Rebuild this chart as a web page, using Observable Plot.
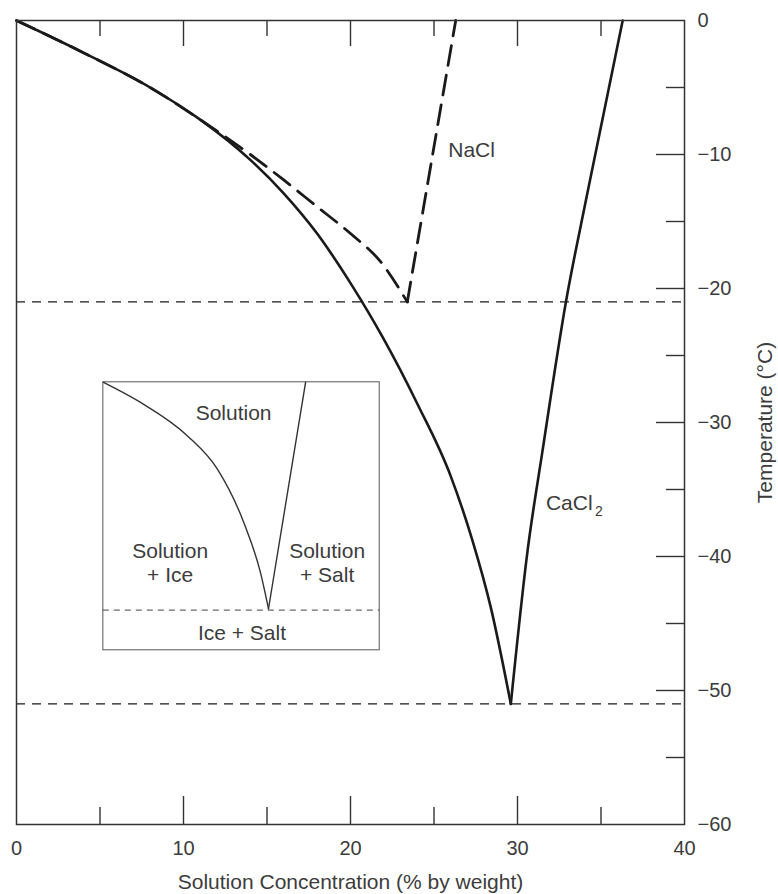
<!DOCTYPE html>
<html><head><meta charset="utf-8">
<script src="https://cdn.jsdelivr.net/npm/d3@7"></script>
<script src="https://cdn.jsdelivr.net/npm/@observablehq/plot@0.6"></script>
<style>
body{margin:0;background:#fff;}
#chart svg{display:block;}
</style>
</head><body><div id="chart"></div>
<script>
// ---- data ----
// common ice (freezing) curve, ends at the CaCl2 eutectic
const iceConc = [0, 4, 8, 11, 14, 16, 18, 20, 22, 24, 26, 27.3, 28.4, 29.6];
const iceTemp = [0, -2.4, -5.0, -7.4, -10.4, -12.9, -15.9, -19.6, -23.8, -28.6, -34.0, -38.8, -43.8, -51];
// CaCl2 solubility line
const caSaltConc = [29.6, 30.6, 31.5, 32.9, 34.1, 36.3];
const caSaltTemp = [-51, -39.6, -32.1, -21, -13.4, 0];
// NaCl freezing curve (dashed)
const naIceConc = [0, 4, 8, 11, 14, 16, 18, 20, 21.8, 23.4];
const naIceTemp = [0, -2.4, -5.0, -7.4, -10.0, -11.9, -13.9, -15.9, -18.0, -21];
// NaCl solubility line (dashed)
const naSaltConc = [23.4, 26.3];
const naSaltTemp = [-21, 0];
// eutectic temperatures
const eutecticTemps = [-21, -51];

// inset schematic (in main-chart units)
const insetBoxConc = [5.2, 21.75];
const insetBoxTemp = [-47, -27.0];
const insetIceConc = [5.21, 7.43, 10.24, 12.04, 13.59, 14.61, 15.09];
const insetIceTemp = [-27.0, -28.5, -31.0, -33.5, -37.4, -41.2, -43.9];
const insetSaltConc = [15.09, 17.31];
const insetSaltTemp = [-43.9, -27.0];
const insetEutectic = -44.0;
const insetLabels = ["Solution", "Solution", "+ Ice", "Solution", "+ Salt", "Ice + Salt"];
const insetLabelConc = [13.0, 9.2, 9.2, 18.6, 18.6, 13.5];
const insetLabelTemp = [-29.3, -39.6, -41.4, -39.6, -41.4, -45.7];

// axes
const xLabelTicks = [0, 10, 20, 30, 40];
const xMajorTicks = [10, 20, 30];
const xMinorTicks = [5, 15, 25, 35];
const yLabelTicks = [0, -10, -20, -30, -40, -50, -60];
const yMajorTicks = [-10, -20, -30, -40, -50];
const yMinorTicks = [-5, -15, -25, -35, -45, -55];

// ---- layout ----
const W = 778, H = 894;
const mL = 16, mR = 94, mT = 20, mB = 70;
const innerW = W - mL - mR, innerH = H - mT - mB;
const ink = "#1a1a1a", txt = "#3c3c3c";
const pts = (a, b) => a.map((v, i) => ({c: v, t: b[i]}));
const fmtY = d => d === 0 ? "0" : "\u2212" + Math.abs(d);

const chart = Plot.plot({
  width: W, height: H,
  marginLeft: mL, marginRight: mR, marginTop: mT, marginBottom: mB,
  style: {fontFamily: "'Liberation Sans', Arial, Helvetica, sans-serif", fontSize: "20px", color: txt, background: "#fff"},
  x: {domain: [0, 40], axis: null},
  y: {domain: [-60, 0], axis: null},
  marks: [
    // inset box
    Plot.rect([0], {x1: () => insetBoxConc[0], x2: () => insetBoxConc[1], y1: () => insetBoxTemp[0], y2: () => insetBoxTemp[1],
      fill: "#fff", stroke: "#555", strokeWidth: 1}),
    Plot.ruleY([insetEutectic], {x1: insetBoxConc[0], x2: insetBoxConc[1], stroke: "#444", strokeWidth: 1, strokeDasharray: "6,5"}),
    Plot.line(pts(insetIceConc, insetIceTemp), {x: "c", y: "t", curve: "monotone-x", stroke: "#333", strokeWidth: 1.4}),
    Plot.line(pts(insetSaltConc, insetSaltTemp), {x: "c", y: "t", stroke: "#333", strokeWidth: 1.4}),
    Plot.text(insetLabels, {x: (d, i) => insetLabelConc[i], y: (d, i) => insetLabelTemp[i], text: d => d,
      fill: txt, fontSize: 21, textAnchor: "middle"}),
    // eutectic dashed lines
    Plot.ruleY(eutecticTemps, {stroke: ink, strokeWidth: 1.2, strokeDasharray: "9,7"}),
    // curves
    Plot.line(pts(naIceConc, naIceTemp), {x: "c", y: "t", curve: "monotone-x", stroke: ink, strokeWidth: 2.8, strokeDasharray: "20,10"}),
    Plot.line(pts(naSaltConc, naSaltTemp), {x: "c", y: "t", stroke: ink, strokeWidth: 2.8, strokeDasharray: "20,10"}),
    Plot.line(pts(iceConc, iceTemp), {x: "c", y: "t", curve: "monotone-x", stroke: ink, strokeWidth: 2.6}),
    Plot.line(pts(caSaltConc, caSaltTemp), {x: "c", y: "t", curve: "monotone-x", stroke: ink, strokeWidth: 2.6}),
    // frame
    Plot.frame({stroke: "#333", strokeWidth: 1.5}),
    // inward ticks
    Plot.ruleX(xMajorTicks, {insetTop: innerH - 28, stroke: "#333", strokeWidth: 1.4}),
    Plot.ruleX(xMinorTicks, {insetTop: innerH - 17, stroke: "#333", strokeWidth: 1.4}),
    Plot.ruleX(xMajorTicks, {insetBottom: innerH - 26, stroke: "#333", strokeWidth: 1.4}),
    Plot.ruleX(xMinorTicks, {insetBottom: innerH - 16, stroke: "#333", strokeWidth: 1.4}),
    Plot.ruleY(yMajorTicks, {insetLeft: innerW - 28, stroke: "#333", strokeWidth: 1.4}),
    Plot.ruleY(yMinorTicks, {insetLeft: innerW - 18, stroke: "#333", strokeWidth: 1.4}),
    // tick labels
    Plot.axisX(xLabelTicks, {anchor: "bottom", tickSize: 0, tickPadding: 16, fontSize: 20, label: null, color: txt}),
    Plot.axisY(yLabelTicks, {anchor: "right", tickSize: 0, tickPadding: 13, fontSize: 20, label: null, tickFormat: fmtY, color: txt}),
    // axis titles
    Plot.text(["Solution Concentration (% by weight)"], {frameAnchor: "bottom", dy: 64, fontSize: 21, fill: txt, textAnchor: "middle"}),
    Plot.text(["Temperature (\u00B0C)"], {frameAnchor: "right", dx: 81, rotate: -90, fontSize: 21, fill: txt, textAnchor: "middle"}),
    // curve labels
    Plot.text(["NaCl"], {x: 27.25, y: -9.7, fontSize: 21, fill: txt}),
    Plot.text(["CaCl"], {x: 31.7, y: -36.0, fontSize: 21, fill: txt, textAnchor: "start"}),
    Plot.text(["2"], {x: 31.7, y: -36.0, dx: 49, dy: 9, fontSize: 14, fill: txt, textAnchor: "start"})
  ]
});
document.getElementById("chart").appendChild(chart);
</script>
</body></html>
